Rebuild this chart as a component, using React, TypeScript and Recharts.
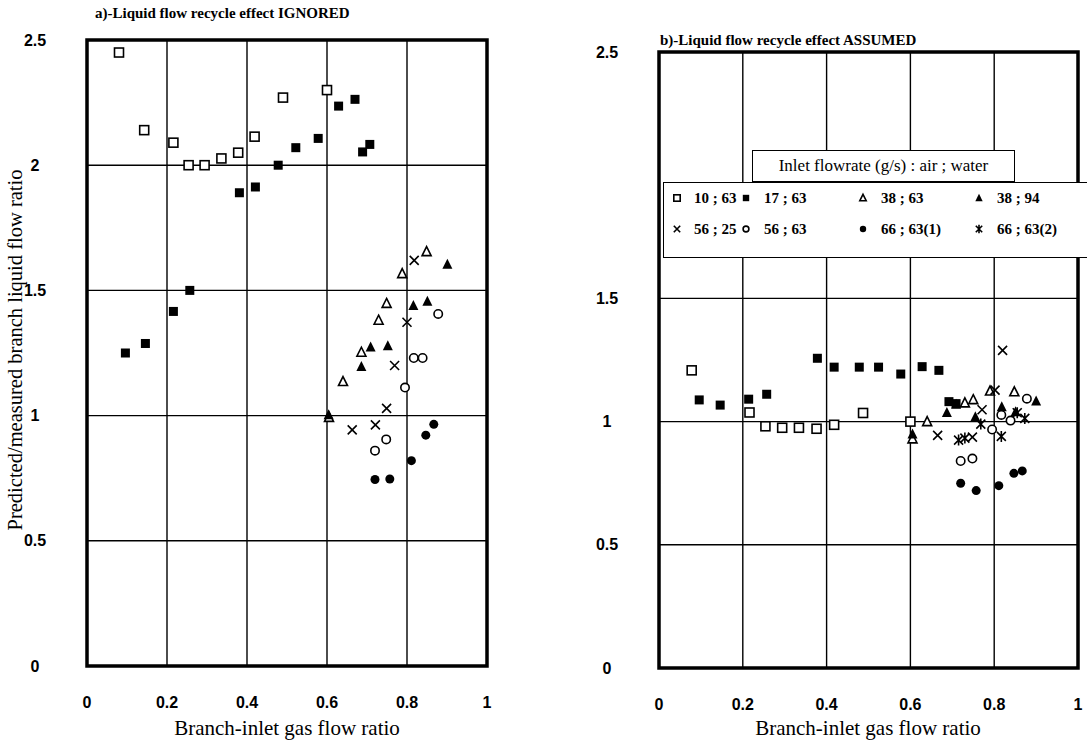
import React from "react";
import { ScatterChart, Scatter, XAxis, YAxis, CartesianGrid, ReferenceArea } from "recharts";

type Pt = [number, number];

const xTicks = [0, 0.2, 0.4, 0.6, 0.8, 1];
const yTicks = [0, 0.5, 1, 1.5, 2, 2.5];
const yGridB = [0, 0.5, 1, 1.5, 2.5];

// a) recycle effect ignored
const aSq10_63: Pt[] = [[0.08, 2.45], [0.143, 2.14], [0.216, 2.09], [0.254, 2.0], [0.294, 2.0], [0.336, 2.027], [0.378, 2.05], [0.419, 2.114], [0.49, 2.27], [0.6, 2.3]];
const aFSq17_63: Pt[] = [[0.096, 1.25], [0.146, 1.288], [0.216, 1.416], [0.257, 1.5], [0.381, 1.89], [0.421, 1.913], [0.478, 2.0], [0.522, 2.07], [0.578, 2.107], [0.629, 2.236], [0.67, 2.263], [0.689, 2.053], [0.707, 2.083]];
const aTri38_63: Pt[] = [[0.605, 0.993], [0.64, 1.136], [0.686, 1.253], [0.729, 1.381], [0.749, 1.448], [0.788, 1.567], [0.849, 1.655]];
const aFTri38_94: Pt[] = [[0.604, 1.003], [0.686, 1.196], [0.709, 1.274], [0.752, 1.279], [0.816, 1.44], [0.851, 1.457], [0.901, 1.604]];
const aX56_25: Pt[] = [[0.663, 0.943], [0.721, 0.963], [0.749, 1.029], [0.769, 1.2], [0.8, 1.373], [0.818, 1.62]];
const aO56_63: Pt[] = [[0.72, 0.86], [0.748, 0.905], [0.795, 1.112], [0.817, 1.23], [0.839, 1.23], [0.878, 1.406]];
const aF66_63_1: Pt[] = [[0.72, 0.745], [0.757, 0.747], [0.811, 0.82], [0.847, 0.922], [0.867, 0.965]];

// b) recycle effect assumed
const bSq10_63: Pt[] = [[0.078, 1.208], [0.216, 1.037], [0.254, 0.981], [0.294, 0.975], [0.334, 0.975], [0.376, 0.971], [0.418, 0.987], [0.487, 1.035], [0.6, 1.0]];
const bFSq17_63: Pt[] = [[0.096, 1.088], [0.146, 1.067], [0.214, 1.091], [0.257, 1.111], [0.378, 1.257], [0.418, 1.221], [0.478, 1.221], [0.524, 1.221], [0.577, 1.193], [0.628, 1.223], [0.668, 1.208], [0.692, 1.081], [0.709, 1.073]];
const bTri38_63: Pt[] = [[0.605, 0.93], [0.64, 1.0], [0.73, 1.076], [0.75, 1.089], [0.79, 1.124], [0.848, 1.121]];
const bFTri38_94: Pt[] = [[0.605, 0.95], [0.687, 1.037], [0.709, 1.07], [0.755, 1.02], [0.818, 1.06], [0.851, 1.04], [0.9, 1.084]];
const bX56_25: Pt[] = [[0.665, 0.944], [0.748, 0.937], [0.771, 1.048], [0.802, 1.128], [0.82, 1.289]];
const bO56_63: Pt[] = [[0.72, 0.84], [0.748, 0.85], [0.795, 0.968], [0.817, 1.027], [0.839, 1.004], [0.878, 1.093]];
const bF66_63_1: Pt[] = [[0.72, 0.75], [0.757, 0.72], [0.811, 0.74], [0.847, 0.79], [0.867, 0.8]];
const bAst66_63_2: Pt[] = [[0.715, 0.925], [0.73, 0.933], [0.768, 0.99], [0.817, 0.94], [0.855, 1.036], [0.873, 1.013]];

const legendItems = [
  { kind: "sq", label: "10 ; 63" },
  { kind: "fsq", label: "17 ; 63" },
  { kind: "tri", label: "38 ; 63" },
  { kind: "ftri", label: "38 ; 94" },
  { kind: "x", label: "56 ; 25" },
  { kind: "o", label: "56 ; 63" },
  { kind: "fo", label: "66 ; 63(1)" },
  { kind: "ast", label: "66 ; 63(2)" },
];

const toPts = (a: Pt[]) => a.map(([x, y]) => ({ x, y }));

const SERIF = "'Liberation Serif', 'Times New Roman', serif";
const SANS = "'Liberation Sans', Arial, sans-serif";

function Mark({ cx, cy, kind, h = 4.5 }: { cx: number; cy: number; kind: string; h?: number }) {
  const sw = 1.6;
  switch (kind) {
    case "sq":
      return <rect x={cx - h} y={cy - h} width={2 * h} height={2 * h} fill="#fff" stroke="#000" strokeWidth={sw} />;
    case "fsq":
      return <rect x={cx - h} y={cy - h} width={2 * h} height={2 * h} fill="#000" />;
    case "tri":
      return <polygon points={`${cx},${cy - h - 0.5} ${cx + h},${cy + h - 0.5} ${cx - h},${cy + h - 0.5}`} fill="#fff" stroke="#000" strokeWidth={sw} />;
    case "ftri":
      return <polygon points={`${cx},${cy - h - 1} ${cx + h + 0.5},${cy + h} ${cx - h - 0.5},${cy + h}`} fill="#000" />;
    case "x":
      return <path d={`M${cx - h},${cy - h}L${cx + h},${cy + h}M${cx - h},${cy + h}L${cx + h},${cy - h}`} stroke="#000" strokeWidth={sw} />;
    case "o":
      return <circle cx={cx} cy={cy} r={h - 0.3} fill="#fff" stroke="#000" strokeWidth={sw} />;
    case "fo":
      return <circle cx={cx} cy={cy} r={h} fill="#000" />;
    case "ast":
      return <path d={`M${cx - h},${cy - h}L${cx + h},${cy + h}M${cx - h},${cy + h}L${cx + h},${cy - h}M${cx},${cy - h - 1}L${cx},${cy + h + 1}`} stroke="#000" strokeWidth={sw} />;
    default:
      return null;
  }
}

type Series = { kind: string; data: Pt[] };

function Panel({ width, height, margin, series, hideTwo }: { width: number; height: number; margin: any; series: Series[]; hideTwo?: boolean }) {
  return (
    <ScatterChart width={width} height={height} margin={margin}>
      <CartesianGrid stroke="#000" strokeWidth={1.4} horizontalValues={hideTwo ? yGridB : yTicks} />
      <XAxis
        type="number"
        dataKey="x"
        domain={[0, 1]}
        ticks={xTicks}
        interval={0}
        tickLine={false}
        axisLine={false}
        height={30}
        tickMargin={25}
        tick={{ fill: "#000", fontSize: 16, fontWeight: 700, fontFamily: SANS }}
      />
      <YAxis
        type="number"
        dataKey="y"
        domain={[0, 2.5]}
        ticks={yTicks}
        interval={0}
        tickLine={false}
        axisLine={false}
        width={60}
        tickMargin={46}
        tickFormatter={(v: number) => (hideTwo && v === 2 ? "" : String(v))}
        tick={{ fill: "#000", fontSize: 16, fontWeight: 700, fontFamily: SANS, textAnchor: "middle" }}
      />
      <ReferenceArea x1={0} x2={1} y1={0} y2={2.5} fill="none" stroke="#000" strokeWidth={3.5} ifOverflow="visible" />
      {series.map((s, i) => (
        <Scatter
          key={i}
          data={toPts(s.data)}
          isAnimationActive={false}
          shape={(p: any) => <Mark cx={p.cx} cy={p.cy} kind={s.kind} />}
        />
      ))}
    </ScatterChart>
  );
}

const seriesA: Series[] = [
  { kind: "sq", data: aSq10_63 },
  { kind: "fsq", data: aFSq17_63 },
  { kind: "tri", data: aTri38_63 },
  { kind: "ftri", data: aFTri38_94 },
  { kind: "x", data: aX56_25 },
  { kind: "o", data: aO56_63 },
  { kind: "fo", data: aF66_63_1 },
];

const seriesB: Series[] = [
  { kind: "sq", data: bSq10_63 },
  { kind: "fsq", data: bFSq17_63 },
  { kind: "tri", data: bTri38_63 },
  { kind: "ftri", data: bFTri38_94 },
  { kind: "x", data: bX56_25 },
  { kind: "o", data: bO56_63 },
  { kind: "fo", data: bF66_63_1 },
  { kind: "ast", data: bAst66_63_2 },
];

const abs = (left: number, top: number, extra: React.CSSProperties = {}): React.CSSProperties => ({
  position: "absolute",
  left,
  top,
  ...extra,
});

function Legend() {
  const colSym = [13, 82, 199, 315];
  const colText = [30, 100, 217, 333];
  const rowY = [15, 46];
  return (
    <>
      <div
        style={abs(752, 150, {
          width: 263,
          height: 32,
          boxSizing: "border-box",
          border: "1.5px solid #000",
          background: "#fff",
          fontFamily: SERIF,
          fontSize: 17,
          lineHeight: "29px",
          textAlign: "center",
          whiteSpace: "nowrap",
          zIndex: 2,
        })}
      >
        Inlet flowrate (g/s) : air ; water
      </div>
      <div
        style={abs(663, 182, {
          width: 424,
          height: 76,
          boxSizing: "border-box",
          borderTop: "1.5px solid #000",
          borderLeft: "1.5px solid #000",
          borderBottom: "1.5px solid #000",
          background: "#fff",
          zIndex: 1,
        })}
      >
        {legendItems.map((it, i) => {
          const r = Math.floor(i / 4);
          const c = i % 4;
          return (
            <React.Fragment key={i}>
              <svg width={12} height={12} style={abs(colSym[c] - 6, rowY[r] - 6)}>
                <Mark cx={6} cy={6} kind={it.kind} h={3.2} />
              </svg>
              <div
                style={abs(colText[c], rowY[r] - 10, {
                  fontFamily: SERIF,
                  fontWeight: 700,
                  fontSize: 15,
                  lineHeight: "20px",
                  whiteSpace: "nowrap",
                })}
              >
                {it.label}
              </div>
            </React.Fragment>
          );
        })}
      </div>
    </>
  );
}

export default function App() {
  return (
    <div style={abs(0, 0, { width: 1087, height: 752, background: "#fff", overflow: "hidden", fontFamily: SERIF, color: "#000" })}>
      <div style={abs(0, 0)}>
        <Panel width={540} height={752} margin={{ top: 40, right: 53, bottom: 56, left: 27 }} series={seriesA} />
      </div>
      <div style={abs(560, 0)}>
        <Panel width={527} height={752} margin={{ top: 52, right: 9, bottom: 54, left: 39 }} series={seriesB} hideTwo />
      </div>
      <div style={abs(95, 5, { fontFamily: SERIF, fontWeight: 700, fontSize: 15, whiteSpace: "nowrap" })}>
        a)-Liquid flow recycle effect IGNORED
      </div>
      <div style={abs(660, 32, { fontFamily: SERIF, fontWeight: 700, fontSize: 15, whiteSpace: "nowrap" })}>
        b)-Liquid flow recycle effect ASSUMED
      </div>
      <div
        style={abs(15, 350, {
          fontFamily: SERIF,
          fontSize: 20.5,
          whiteSpace: "nowrap",
          transform: "translate(-50%, -50%) rotate(-90deg)",
        })}
      >
        Predicted/measured branch liquid flow ratio
      </div>
      <div style={abs(287, 728, { fontFamily: SERIF, fontSize: 21, whiteSpace: "nowrap", transform: "translate(-50%, -50%)" })}>
        Branch-inlet gas flow ratio
      </div>
      <div style={abs(868, 728, { fontFamily: SERIF, fontSize: 21, whiteSpace: "nowrap", transform: "translate(-50%, -50%)" })}>
        Branch-inlet gas flow ratio
      </div>
      <Legend />
    </div>
  );
}
